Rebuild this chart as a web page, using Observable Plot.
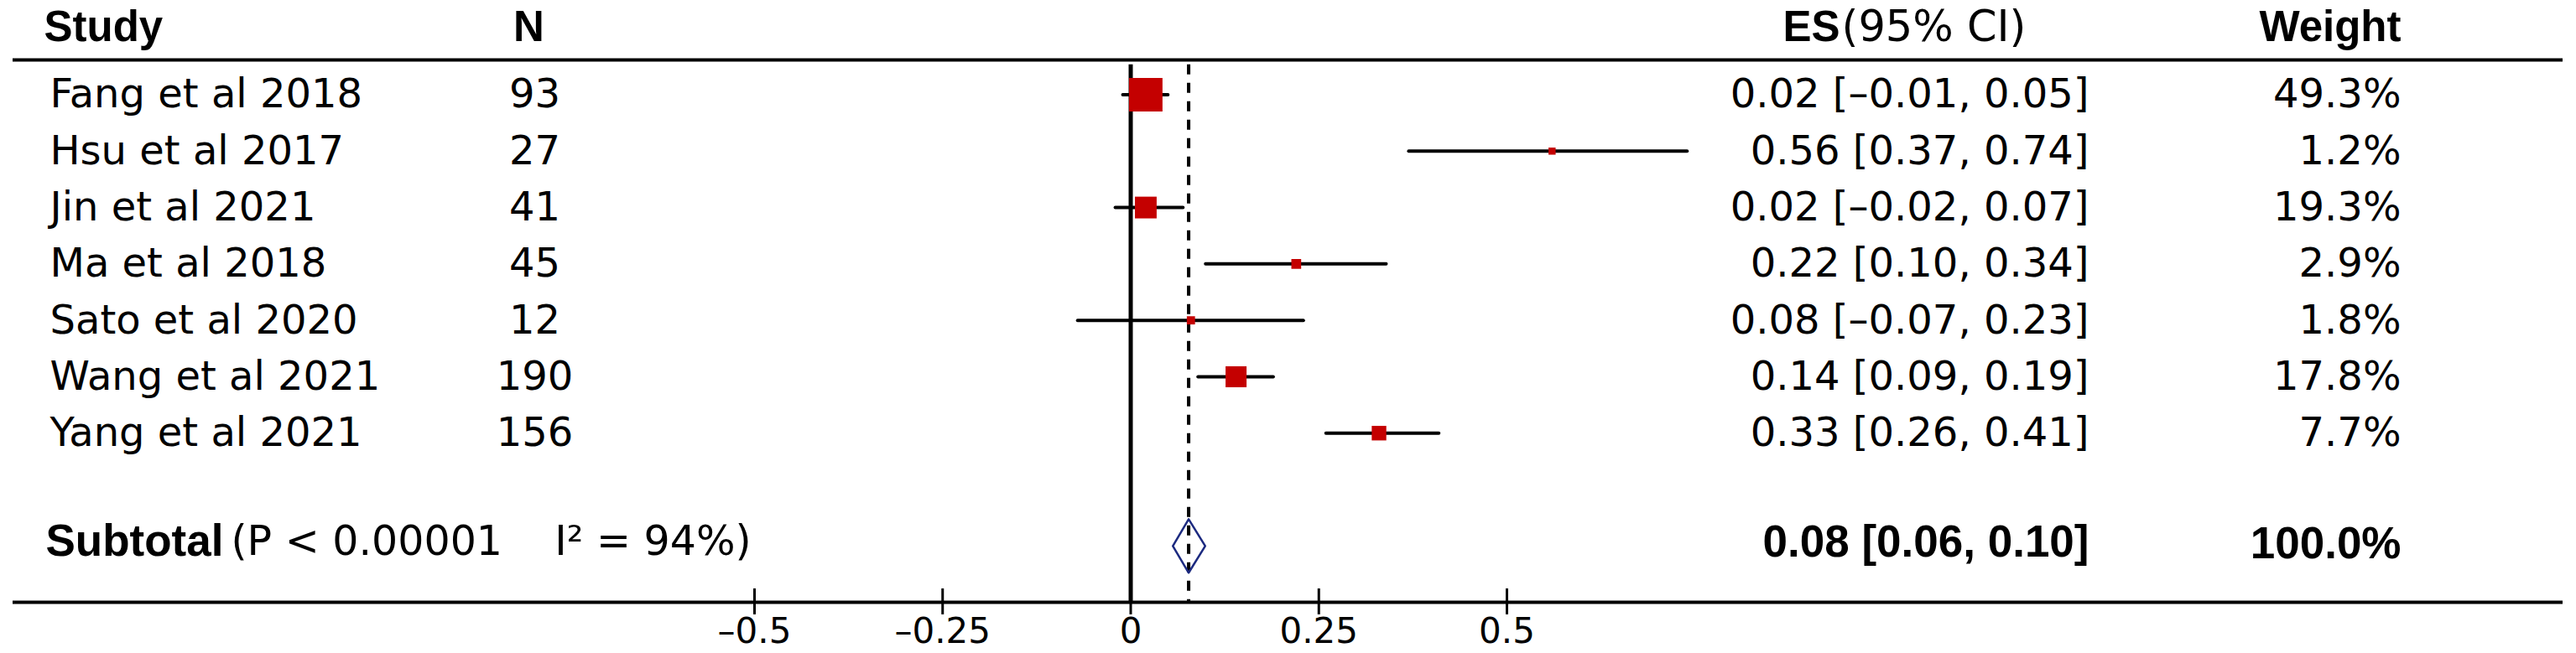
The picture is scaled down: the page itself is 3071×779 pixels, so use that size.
<!DOCTYPE html>
<html>
<head>
<meta charset="utf-8">
<script src="https://cdn.jsdelivr.net/npm/d3@7"></script>
<script src="https://cdn.jsdelivr.net/npm/@observablehq/plot@0.6"></script>
<style>
  html, body { margin: 0; padding: 0; background: #fff; }
  svg { display: block; }
</style>
</head>
<body>
<div id="chart"></div>
<script>
// ---------------- data ----------------
const studies  = ["Fang et al 2018", "Hsu et al 2017", "Jin et al 2021", "Ma et al 2018", "Sato et al 2020", "Wang et al 2021", "Yang et al 2021"];
const sampleN  = [93, 27, 41, 45, 12, 190, 156];
const effect   = [0.02, 0.56, 0.02, 0.22, 0.08, 0.14, 0.33];
const ciLow    = [-0.01, 0.37, -0.02, 0.10, -0.07, 0.09, 0.26];
const ciHigh   = [0.05, 0.74, 0.07, 0.34, 0.23, 0.19, 0.41];
const weights  = [49.3, 1.2, 19.3, 2.9, 1.8, 17.8, 7.7];
const pooledEs = 0.077;
const pooledLow = 0.056;
const pooledHigh = 0.099;
const pValueText = "P < 0.00001";
const i2Percent = 94;
const xTicks = [-0.5, -0.25, 0, 0.25, 0.5];
const headers = {study: "Study", n: "N", esBold: "ES", esRest: "(95% CI)", weight: "Weight"};
const subtotalLabel = "Subtotal";

// ---------------- layout ----------------
const W = 3071, H = 779;
const ML = 15, MR = 16;
const AXIS_Y_PX = 718;
const HEADER_ROW = -1.19;
const HEADER_RULE_ROW = -0.617;
const LINE_TOP_ROW = -0.53;
const SUB_ROW = 8;
const AXIS_ROW = 9;
const COL = {study: 59, studyHead: 52, n: 637, nHead: 630, es: 2490, esHead: 2193, weight: 2862, subtotal: 54, het: 275};
const REG = "'DejaVu Sans', sans-serif";
const BOLD = "'Liberation Sans', Arial, sans-serif";

const dash = s => s.replace(/\u2212/g, "\u2013").replace(/^-/, "\u2013");
const f2 = v => dash(d3.format(".2f")(v));
const ciText = (e, l, h) => `${f2(e)} [${f2(l)}, ${f2(h)}]`;
const wText = w => d3.format(".1f")(w) + "%";

const rows = studies.map((s, i) => ({
  study: s, n: sampleN[i], es: effect[i], lo: ciLow[i], hi: ciHigh[i], w: weights[i], row: i
}));
const totalWeight = d3.sum(weights);
const dh = 0.475;
const diamond = [
  {x: pooledLow, y: SUB_ROW},
  {x: pooledEs, y: SUB_ROW - dh},
  {x: pooledHigh, y: SUB_ROW},
  {x: pooledEs, y: SUB_ROW + dh},
  {x: pooledLow, y: SUB_ROW}
];
const NB = "\u00a0";
const hetText = `(${pValueText}${NB}${NB}${NB}${NB}I\u00b2 = ${i2Percent}%)`;

const left = (px) => ({frameAnchor: "left", dx: px - ML});

const chart = Plot.plot({
  width: W, height: H,
  marginLeft: ML, marginRight: MR, marginTop: 0, marginBottom: H - AXIS_Y_PX,
  style: {fontFamily: REG, fontSize: "48px", color: "#000", background: "#fff", overflow: "visible"},
  x: {domain: [-0.5, 0.5], range: [899, 1796]},
  y: {domain: [0, 9], range: [112.5, 718.1], axis: null},
  r: {type: "sqrt", domain: [0, 49.3], range: [1.5, 22.5]},
  marks: [
    // horizontal rules
    Plot.ruleY([HEADER_RULE_ROW], {stroke: "#000", strokeWidth: 4}),
    Plot.ruleY([AXIS_ROW], {stroke: "#000", strokeWidth: 4}),
    // tick marks crossing the axis
    Plot.ruleX(xTicks, {x: d => d, y1: 8.76, y2: 9.22, stroke: "#000", strokeWidth: 3}),
    // no-effect line and pooled dashed line
    Plot.ruleX([0], {y1: LINE_TOP_ROW, y2: AXIS_ROW, stroke: "#000", strokeWidth: 5}),
    Plot.ruleX([pooledEs], {y1: LINE_TOP_ROW, y2: AXIS_ROW, stroke: "#000", strokeWidth: 4, strokeDasharray: "12,10"}),
    // confidence intervals
    Plot.ruleY(rows, {y: "row", x1: "lo", x2: "hi", stroke: "#000", strokeWidth: 4, strokeLinecap: "round"}),
    // weighted squares
    Plot.dot(rows, {x: "es", y: "row", r: "w", symbol: "square", fill: "#c40000"}),
    // pooled diamond
    Plot.line(diamond, {x: "x", y: "y", stroke: "#1c2a80", strokeWidth: 2.5, curve: "linear"}),
    // x axis labels
    Plot.axisX({ticks: xTicks, tickSize: 0, tickPadding: 19, tickFormat: d => d < 0 ? "\u2013" + String(-d) : String(d), fontSize: 42, label: null}),
    // header row
    Plot.text([headers.study], {y: HEADER_ROW, text: d => d, ...left(COL.studyHead), textAnchor: "start", fontFamily: BOLD, fontWeight: "bold", fontSize: 51}),
    Plot.text([headers.n], {y: HEADER_ROW, text: d => d, ...left(COL.nHead), textAnchor: "middle", fontFamily: BOLD, fontWeight: "bold", fontSize: 51}),
    Plot.text([headers.esBold], {y: HEADER_ROW, text: d => d, ...left(COL.esHead), textAnchor: "end", fontFamily: BOLD, fontWeight: "bold", fontSize: 51}),
    Plot.text([headers.esRest], {y: HEADER_ROW, text: d => d, ...left(COL.esHead + 2), textAnchor: "start", fontFamily: REG, fontSize: 51}),
    Plot.text([headers.weight], {y: HEADER_ROW, text: d => d, ...left(COL.weight), textAnchor: "end", fontFamily: BOLD, fontWeight: "bold", fontSize: 51}),
    // study rows
    Plot.text(rows, {y: "row", text: "study", ...left(COL.study), textAnchor: "start", fontSize: 48}),
    Plot.text(rows, {y: "row", text: d => String(d.n), ...left(COL.n), textAnchor: "middle", fontSize: 48}),
    Plot.text(rows, {y: "row", text: d => ciText(d.es, d.lo, d.hi), ...left(COL.es), textAnchor: "end", fontSize: 48}),
    Plot.text(rows, {y: "row", text: d => wText(d.w), ...left(COL.weight), textAnchor: "end", fontSize: 48}),
    // subtotal row
    Plot.text([subtotalLabel], {y: SUB_ROW, dy: -5, text: d => d, ...left(COL.subtotal), textAnchor: "start", fontFamily: BOLD, fontWeight: "bold", fontSize: 53}),
    Plot.text([hetText], {y: SUB_ROW, dy: -5, text: d => d, ...left(COL.het), textAnchor: "start", fontSize: 49}),
    Plot.text([ciText(pooledEs, pooledLow, pooledHigh)], {y: SUB_ROW, dy: -4, text: d => d, ...left(COL.es), textAnchor: "end", fontFamily: BOLD, fontWeight: "bold", fontSize: 53}),
    Plot.text([wText(totalWeight)], {y: SUB_ROW, dy: -2, text: d => d, ...left(COL.weight), textAnchor: "end", fontFamily: BOLD, fontWeight: "bold", fontSize: 53})
  ]
});
document.getElementById("chart").appendChild(chart);
</script>
</body>
</html>
